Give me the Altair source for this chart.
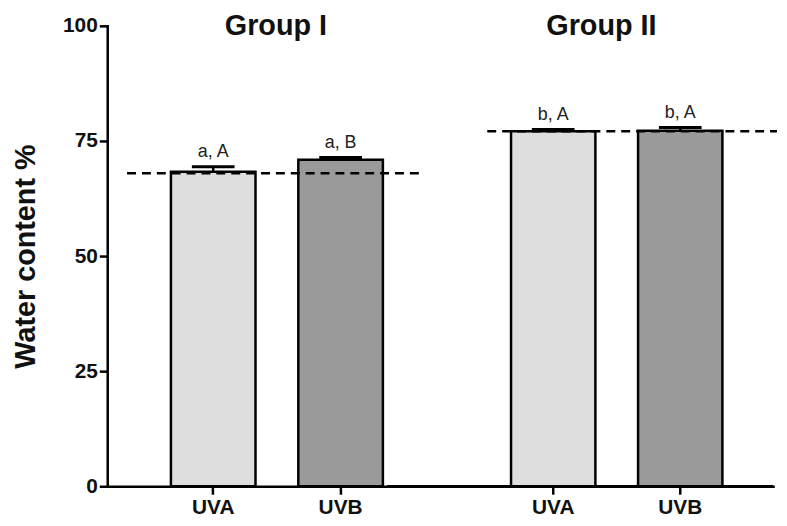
import altair as alt
import pandas as pd

# ---- data ----
groups = ["Group I", "Group I", "Group II", "Group II"]
treatments = ["UVA", "UVB", "UVA", "UVB"]
means = [68.3, 70.9, 77.1, 77.2]
err_upper = [69.4, 71.4, 77.5, 77.9]
letters = ["a, A", "a, B", "b, A", "b, A"]
group_names = ["Group I", "Group II"]
control_levels = [68.0, 77.1]
y_ticks = [0, 25, 50, 75, 100]

FONT = "Liberation Sans"
LIGHT = "#dedede"
DARK = "#9a9a9a"

df = pd.DataFrame({
    "group": groups,
    "treatment": treatments,
    "mean": means,
    "upper": err_upper,
    "label": letters,
})


def panel(gname, ctrl, width, pad_outer, align, show_y, line_x, title_x):
    d = df[df["group"] == gname]
    xenc = alt.X(
        "treatment:N",
        sort=["UVA", "UVB"],
        scale=alt.Scale(paddingInner=0.336, paddingOuter=pad_outer, align=align),
        axis=alt.Axis(
            title=None, labelAngle=0, labelFont=FONT, labelFontSize=21,
            labelFontWeight="bold", labelColor="#111", labelPadding=2,
            tickSize=8, tickWidth=2.5, tickColor="black",
            domainColor="black", domainWidth=2.5, domainCap="square", grid=False,
        ),
    )
    if show_y:
        yaxis = alt.Axis(
            values=y_ticks, title="Water content %", titleFont=FONT,
            titleFontSize=29, titleFontWeight="bold", titleColor="#111",
            titlePadding=22, labelFont=FONT, labelFontSize=21,
            labelFontWeight="bold", labelColor="#111", labelPadding=2,
            tickSize=8, tickWidth=2.5, tickColor="black",
            domainColor="black", domainWidth=2.5, domainCap="square", grid=False,
        )
    else:
        yaxis = None
    yscale = alt.Scale(domain=[0, 100], nice=False)
    base = alt.Chart(d)
    bars = base.mark_bar(stroke="black", strokeWidth=2.5, opacity=1).encode(
        x=xenc,
        y=alt.Y("mean:Q", scale=yscale, axis=yaxis),
        color=alt.Color("treatment:N", scale=alt.Scale(domain=["UVA", "UVB"], range=[LIGHT, DARK]), legend=None),
    )
    baseline = alt.Chart(pd.DataFrame({"z": [0]})).mark_rule(
        color="black", strokeWidth=2.5
    ).encode(
        y=alt.Y("z:Q", scale=yscale),
        x=alt.value(-60), x2=alt.value(width),
    )
    dashed = alt.Chart(pd.DataFrame({"ctrl": [ctrl]})).mark_rule(
        color="black", strokeWidth=2.5, strokeDash=[9, 6]
    ).encode(
        y=alt.Y("ctrl:Q", scale=yscale),
        x=alt.value(line_x[0]), x2=alt.value(line_x[1]),
    )
    err_rule = base.mark_rule(color="black", strokeWidth=2.5).encode(
        x=alt.X("treatment:N", sort=["UVA", "UVB"]),
        y=alt.Y("mean:Q", scale=yscale),
        y2="upper:Q",
    )
    err_cap = base.mark_tick(color="black", thickness=3, size=43, opacity=1).encode(
        x=alt.X("treatment:N", sort=["UVA", "UVB"]),
        y=alt.Y("upper:Q", scale=yscale),
    )
    labels = base.mark_text(
        font=FONT, fontSize=18, color="#222", baseline="bottom", dy=-6
    ).encode(
        x=alt.X("treatment:N", sort=["UVA", "UVB"]),
        y=alt.Y("upper:Q", scale=yscale),
        text="label:N",
    )
    title = alt.Chart(pd.DataFrame({"g": [gname]})).mark_text(
        font=FONT, fontSize=29, fontWeight="bold", color="#111", baseline="middle"
    ).encode(
        x=alt.value(title_x), y=alt.value(0), text="g:N"
    )
    layers = [bars, dashed, err_rule, err_cap, labels, title]
    if not show_y:
        layers.insert(1, baseline)
    return alt.layer(*layers).properties(width=width, height=464)


p1 = panel(group_names[0], control_levels[0], 342, 0.5, 0.5, True, (20, 317), 170)
p2 = panel(group_names[1], control_levels[1], 329, 0.453, 0.56, False, (41, 333), 156)

chart = alt.hconcat(p1, p2, spacing=0, bounds="flush").resolve_scale(
    x="independent", color="shared"
).properties(
    padding={"left": 3, "top": 2, "right": 0, "bottom": 0},
    background="white",
).configure_view(stroke=None)

chart.save("out.html", embed_options={"renderer": "svg", "actions": False})
